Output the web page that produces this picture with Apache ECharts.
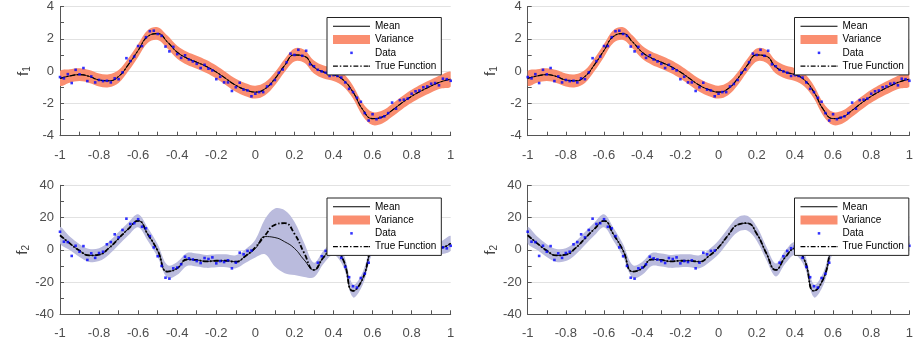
<!DOCTYPE html>
<html>
<head>
<meta charset="utf-8">
<script src="https://cdn.jsdelivr.net/npm/echarts@6/dist/echarts.min.js"></script>
<style>
  html, body { margin: 0; padding: 0; background: #fff; }
  #main { width: 916px; height: 344px; }
</style>
</head>
<body>
<div id="main"></div>
<script>
// x positions of the curves (step 0.05) and of the observations (step 0.02)
const xCurve = [-1, -0.95, -0.9, -0.85, -0.8, -0.75, -0.7, -0.65, -0.6, -0.55,
  -0.5, -0.45, -0.4, -0.35, -0.3, -0.25, -0.2, -0.15, -0.1, -0.05,
  0, 0.05, 0.1, 0.15, 0.2, 0.25, 0.3, 0.35, 0.4, 0.45,
  0.5, 0.55, 0.6, 0.65, 0.7, 0.75, 0.8, 0.85, 0.9, 0.95, 1];
const xData = [-1, -0.98, -0.96, -0.94, -0.92, -0.9, -0.88, -0.86, -0.84, -0.82,
  -0.8, -0.78, -0.76, -0.74, -0.72, -0.7, -0.68, -0.66, -0.64, -0.62,
  -0.6, -0.58, -0.56, -0.54, -0.52, -0.5, -0.48, -0.46, -0.44, -0.42,
  -0.4, -0.38, -0.36, -0.34, -0.32, -0.3, -0.28, -0.26, -0.24, -0.22,
  -0.2, -0.18, -0.16, -0.14, -0.12, -0.1, -0.08, -0.06, -0.04, -0.02,
  0, 0.02, 0.04, 0.06, 0.08, 0.1, 0.12, 0.14, 0.16, 0.18,
  0.2, 0.22, 0.24, 0.26, 0.28, 0.3, 0.32, 0.34, 0.36, 0.38,
  0.4, 0.42, 0.44, 0.46, 0.48, 0.5, 0.52, 0.54, 0.56, 0.58,
  0.6, 0.62, 0.64, 0.66, 0.68, 0.7, 0.72, 0.74, 0.76, 0.78,
  0.8, 0.82, 0.84, 0.86, 0.88, 0.9, 0.92, 0.94, 0.96, 0.98, 1];

// f1 (top row)
const mean1 = [-0.45, -0.3, -0.22, -0.33, -0.55, -0.6, -0.33, 0.4, 1.28, 2.15,
  2.32, 1.8, 1.17, 0.8, 0.55, 0.28, -0.06, -0.47, -0.88, -1.15,
  -1.3, -1.09, -0.47, 0.35, 1.0, 0.92, 0.25, -0.06, -0.22, -0.55,
  -1.3, -2.39, -2.94, -2.84, -2.43, -1.97, -1.56, -1.22, -0.92, -0.66, -0.5];
const true1 = [-0.45, -0.3, -0.22, -0.33, -0.55, -0.6, -0.33, 0.4, 1.28, 2.15,
  2.32, 1.8, 1.17, 0.8, 0.55, 0.28, -0.06, -0.47, -0.88, -1.15,
  -1.3, -1.09, -0.47, 0.35, 1.0, 0.92, 0.25, -0.06, -0.22, -0.55,
  -1.3, -2.39, -2.94, -2.84, -2.43, -1.97, -1.56, -1.22, -0.92, -0.66, -0.5];
const sd1 = [0.45, 0.42, 0.4, 0.4, 0.4, 0.4, 0.4, 0.4, 0.4, 0.4,
  0.4, 0.4, 0.4, 0.4, 0.4, 0.4, 0.4, 0.4, 0.4, 0.4,
  0.4, 0.4, 0.4, 0.4, 0.4, 0.4, 0.4, 0.4, 0.4, 0.4,
  0.4, 0.4, 0.4, 0.4, 0.4, 0.4, 0.4, 0.4, 0.4, 0.42, 0.45];
const data1 = [-0.37, -0.45, -0.19, -0.74, 0.08, -0.2, 0.19, -0.62, -0.33, -0.7,
  -0.55, -0.62, -0.6, -0.7, -0.45, -0.5, -0.08, 0.8, 0.62, 0.9,
  1.55, 1.55, 2.1, 2.47, 2.5, 2.3, 2.18, 1.52, 1.22, 1.5,
  1.05, 0.82, 0.98, 0.72, 0.6, 0.45, 0.19, 0.39, 0.15, 0.04,
  -0.5, -0.35, -0.7, -0.7, -1.23, -1.0, -0.72, -1.15, -1.2, -1.56,
  -1.4, -1.3, -1.3, -0.95, -0.8, -0.55, -0.1, 0.1, 0.55, 1.08,
  1.0, 1.32, 0.95, 1.26, 0.42, 0.3, 0.08, -0.02, -0.1, -0.3,
  -0.25, -0.3, -0.4, -0.7, -1.1, -1.3, -1.65, -1.9, -2.6, -3.06,
  -2.67, -2.98, -2.88, -2.8, -2.6, -1.95, -2.33, -1.8, -1.77, -1.7,
  -1.4, -1.25, -1.2, -1.0, -0.95, -0.78, -0.74, -0.88, -0.47, -0.5, -0.6];

// f2 (bottom row)
const mean2L = [9, 4, -0.5, -3.5, -3, 1, 7, 13, 18, 9.5,
  -0.5, -13.5, -11.5, -6, -6.3, -7.2, -6.8, -6.8, -7.4, -3.8,
  0.8, 8.2, 7.6, 5, 0.9, -6.3, -12.5, -4.5, 0.8, -6.3,
  -25.5, -17.7, 2, 7, 9, 7, 4, 1.5, 0.8, 1.2, 4];
const true2 = [9, 4, -0.5, -3.5, -3, 1, 7, 13, 18, 9.5,
  -0.5, -13.5, -11.5, -6, -6.3, -7.2, -6.8, -6.8, -7.4, -3.8,
  1.5, 9, 15.5, 16.5, 10, -2, -12.5, -4.5, 0.8, -6.3,
  -25.5, -17.7, 2, 7, 9, 7, 4, 1.5, 0.8, 1.2, 4];
const sd2L = [5, 4.2, 4, 4, 4, 4, 4, 4, 4, 4,
  4, 4, 4, 4, 4, 4, 4, 4, 4, 4.2,
  5.5, 11, 18, 19.5, 16.5, 10.5, 4.5, 4, 4, 4,
  4, 4, 4, 4, 4, 4, 4, 4, 4, 4, 4.5];
const sd2R = [5, 4.2, 4, 4, 4, 4, 4, 4, 4, 4,
  4, 4, 4, 4, 4, 4, 4, 4, 4, 4,
  4.2, 4.4, 4.6, 4.6, 4.4, 4.2, 4, 4, 4, 4,
  4, 4, 4, 4, 4, 4, 4, 4, 4, 4, 4.5];
const data2 = [11.2, 5, 4.8, -3.8, 2.5, -1.2, 2.3, -6.3, -2.2, -5,
  -2, -1.2, 3.4, 4.8, 9.6, 7.7, 12.3, 19.3, 16, 16.5,
  19, 14.3, 13.3, 8.5, 1.5, -4, -10, -17.3, -17.9, -11.5,
  -11, -9, -4.3, -5.3, -6, -7, -8.2, -5.1, -5.7, -4.7,
  -8.4, -7, -7.6, -6.5, -11.5, -8, -1.8, -2.8, -0.7, -0.5,
  null, null, null, null, null, null, null, null, null, null,
  null, null, null, null, null, null, -8, -4, -0.7, 1,
  2, -1, -5, -10.6, -17, -22.6, -23.4, -17.5, -14.8, -8,
  1, 4, 5, 9, 7, 10, 8, 6, 7, 3,
  5, 2, 3, 0, 1.5, 2, -0.5, -2, 1.5, 0.9, 2.5];

const xTicks = { min: -1, max: 1, step: 0.2 };
const f1Ticks = { min: -4, max: 4, step: 2 };
const f2Ticks = { min: -40, max: 40, step: 20 };

const salmon = '#fa8e70';
const lavender = '#babbdd';
const axisGrey = '#555';

function pairs(xs, ys) {
  return xs.map((x, i) => [x, ys[i]]).filter(p => p[1] !== null);
}

function bandSeries(g, mean, sd, color) {
  return {
    type: 'custom', name: 'Variance', xAxisIndex: g, yAxisIndex: g,
    data: [[0, 0]], silent: true, z: 1,
    itemStyle: { color: color },
    renderItem: function (params, api) {
      const up = [], lo = [];
      for (let i = 0; i < xCurve.length; i++) {
        up.push(api.coord([xCurve[i], mean[i] + sd[i]]));
        lo.push(api.coord([xCurve[i], mean[i] - sd[i]]));
      }
      const a = api.coord([-1, 0]), b = api.coord([1, 0]);
      return {
        type: 'polygon',
        shape: {
          points: up.concat(lo.reverse()),
          smooth: 0.35,
          smoothConstraint: [[a[0], -1e5], [b[0], 1e5]]
        },
        style: { fill: color }
      };
    }
  };
}

function panelSeries(g, mean, truth, sd, data, color, trueWidth) {
  return [
    bandSeries(g, mean, sd, color),
    {
      type: 'line', name: 'Mean', xAxisIndex: g, yAxisIndex: g,
      data: pairs(xCurve, mean), smooth: 0.5, symbol: 'none', silent: true, z: 3,
      lineStyle: { color: '#000', width: 0.9 }
    },
    {
      type: 'line', name: 'True Function', xAxisIndex: g, yAxisIndex: g,
      data: pairs(xCurve, truth), smooth: 0.5, symbol: 'none', silent: true, z: 4,
      lineStyle: { color: '#000', width: trueWidth, type: [5, 2, 1.5, 2] }
    },
    {
      type: 'scatter', name: 'Data', xAxisIndex: g, yAxisIndex: g,
      data: pairs(xData, data), symbol: 'rect', symbolSize: 2.6, silent: true, z: 5,
      itemStyle: { color: '#0000ff' }
    }
  ];
}

const grids = [
  { left: 60, top: 6, width: 390.7, height: 129.7 },
  { left: 527.7, top: 6, width: 390, height: 129.7 },
  { left: 60, top: 185.3, width: 390.7, height: 129 },
  { left: 527.7, top: 185.3, width: 390, height: 129 }
];

function xAxis(g) {
  return {
    type: 'value', gridIndex: g, min: xTicks.min, max: xTicks.max, interval: xTicks.step,
    axisLine: { onZero: false, lineStyle: { color: axisGrey, width: 1 } },
    axisTick: { inside: true, length: 4, lineStyle: { color: axisGrey } },
    minorTick: { show: true, splitNumber: 2, length: 4, lineStyle: { color: axisGrey } },
    axisLabel: { color: '#4d4d4d', fontSize: 13, margin: 13 },
    splitLine: { show: false }
  };
}

function yAxis(g, t, idx) {
  return {
    type: 'value', gridIndex: g, min: t.min, max: t.max, interval: t.step,
    name: '{a|f}{b|' + idx + '}', nameLocation: 'middle', nameGap: 28, nameRotate: 90,
    nameTextStyle: {
      rich: {
        a: { fontSize: 15, color: '#444', verticalAlign: 'top', lineHeight: 16 },
        b: { fontSize: 10, color: '#444', verticalAlign: 'bottom', padding: [6, 0, 0, 0] }
      }
    },
    axisLine: { show: true, onZero: false, lineStyle: { color: axisGrey, width: 1 } },
    axisTick: { show: true, inside: true, length: 4, lineStyle: { color: axisGrey } },
    minorTick: { show: true, splitNumber: 2, length: 4, lineStyle: { color: axisGrey } },
    axisLabel: { color: '#4d4d4d', fontSize: 13, margin: 6 },
    splitLine: { show: true, lineStyle: { color: '#e2e2e2', width: 1 } }
  };
}

const dashDot = 'path://M0,0h5v1.3h-5zM7,0h1.5v1.3h-1.5zM10.5,0h5v1.3h-5zM17.5,0h1.5v1.3h-1.5zM21,0h5v1.3h-5zM28,0h1.5v1.3h-1.5zM31.5,0h5v1.3h-5zM37,0h1v1.3h-1z';

function legend(left, top) {
  return {
    left: left, top: top, orient: 'vertical', selectedMode: false, z: 20,
    backgroundColor: '#fff', borderColor: '#222', borderWidth: 1,
    padding: [3, 5, 3, 6], itemWidth: 37, itemHeight: 9, itemGap: 1.8,
    textStyle: { color: '#000', fontSize: 10, lineHeight: 11.5 },
    data: [
      { name: 'Mean', icon: 'path://M0,0h38v1h-38z', itemStyle: { color: '#000', borderWidth: 0 } },
      { name: 'Variance', icon: 'rect', itemStyle: { color: salmon, borderWidth: 0 } },
      { name: 'Data', icon: 'path://M0,0M38,9M17.7,3.2h2.6v2.6h-2.6z', itemStyle: { color: '#0000ff', borderWidth: 0 } },
      { name: 'True Function', icon: dashDot, itemStyle: { color: '#000', borderWidth: 0 } }
    ]
  };
}

const chart = echarts.init(document.getElementById('main'), null, { renderer: 'canvas' });
chart.setOption({
  animation: false,
  backgroundColor: '#fff',
  textStyle: { fontFamily: 'Liberation Sans, Arial, sans-serif' },
  grid: grids,
  xAxis: [xAxis(0), xAxis(1), xAxis(2), xAxis(3)],
  yAxis: [yAxis(0, f1Ticks, 1), yAxis(1, f1Ticks, 1), yAxis(2, f2Ticks, 2), yAxis(3, f2Ticks, 2)],
  legend: [legend(327, 17.5), legend(794.5, 17.5), legend(327, 198), legend(794.5, 198)],
  series: [].concat(
    panelSeries(0, mean1, true1, sd1, data1, salmon, 1.1),
    panelSeries(1, mean1, true1, sd1, data1, salmon, 1.1),
    panelSeries(2, mean2L, true2, sd2L, data2, lavender, 1.8),
    panelSeries(3, true2, true2, sd2R, data2, lavender, 1.8)
  )
});
</script>
</body>
</html>
